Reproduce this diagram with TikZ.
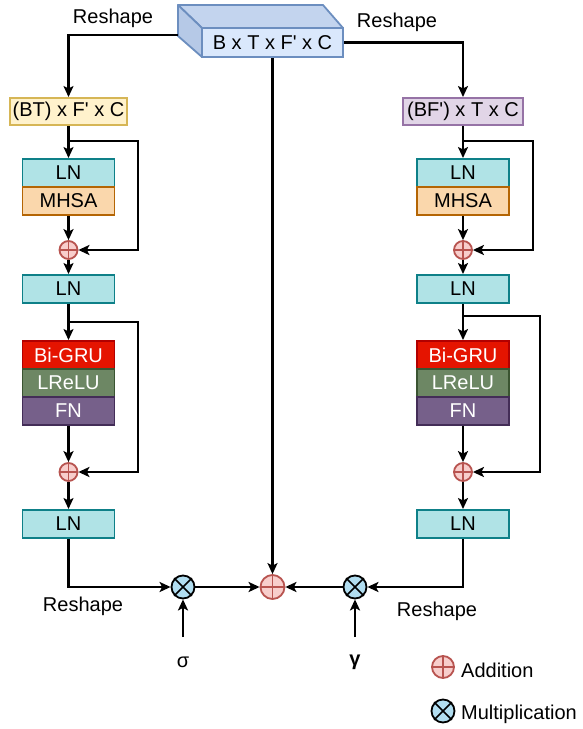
\documentclass[tikz,border=0pt]{standalone}
\usepackage{fontspec}
\setmainfont{Liberation Sans}[Ligatures=TeXOff]
\usetikzlibrary{arrows.meta,calc}
\definecolor{lnF}{HTML}{B0E3E6}\definecolor{lnD}{HTML}{0E8088}
\definecolor{mhF}{HTML}{FAD7AC}\definecolor{mhD}{HTML}{B46504}
\definecolor{grF}{HTML}{E51400}\definecolor{grD}{HTML}{B20000}
\definecolor{reF}{HTML}{6D8764}\definecolor{reD}{HTML}{3A5431}
\definecolor{fnF}{HTML}{76608A}\definecolor{fnD}{HTML}{432D57}
\definecolor{yeF}{HTML}{FFF2CC}\definecolor{yeD}{HTML}{D6B656}
\definecolor{puF}{HTML}{E1D5E7}\definecolor{puD}{HTML}{9673A6}
\definecolor{blF}{HTML}{DAE8FC}\definecolor{blS}{HTML}{C3D4EE}\definecolor{blD}{HTML}{6C8EBF}
\definecolor{adF}{HTML}{F8CECC}\definecolor{adD}{HTML}{B85450}
\definecolor{muF}{HTML}{B1DDF0}
\begin{document}
\begin{tikzpicture}[x=1pt,y=-1pt,
  font=\fontsize{20}{24}\selectfont,
  blk/.style={draw,line width=1.8pt,minimum width=92pt,minimum height=28pt,inner sep=0pt,anchor=north},
  conn/.style={line width=2.2pt,-{Stealth[length=11pt,width=10pt,inset=2.5pt]}},
  addc/.style={circle,draw=adD,fill=adF,line width=1.8pt,minimum size=18pt,inner sep=0pt},
  mulc/.style={circle,draw=black,fill=muF,line width=1.8pt,minimum size=23pt,inner sep=0pt}]
\useasboundingbox (0,0) rectangle (583,729);
% top 3D box
\fill[blS,draw=blD,line width=1.8pt,line join=round] (178,5) -- (323,5) -- (343,28) -- (202,28) -- cycle;
\fill[blS!85!blD,draw=blD,line width=1.8pt,line join=round] (178,5) -- (202,28) -- (202,57) -- (178,36) -- cycle;
\node[draw=blD,fill=blF,line width=1.8pt,minimum width=141pt,minimum height=29pt,inner sep=0pt] (top) at (272.5,42.5) {B x T x F' x C};
\coordinate (tl) at (178,35);
% left column
\node[blk,draw=yeD,fill=yeF,minimum width=117pt,minimum height=27pt] (bt) at (68.5,97) {(BT) x F' x C};
\node[blk,draw=lnD,fill=lnF] (ln1) at (68.5,158) {LN};
\node[blk,draw=mhD,fill=mhF] (mh1) at (68.5,186) {MHSA};
\node[addc] (a1) at (68.5,250) {};
\node[blk,draw=lnD,fill=lnF] (ln2) at (68.5,274) {LN};
\node[blk,draw=grD,fill=grF,text=white] (gr1) at (68.5,340) {Bi-GRU};
\node[blk,draw=reD,fill=reF,text=white] (re1) at (68.5,368) {LReLU};
\node[blk,draw=fnD,fill=fnF,text=white] (fn1) at (68.5,396) {FN};
\node[addc] (a2) at (68.5,472) {};
\node[blk,draw=lnD,fill=lnF] (ln3) at (68.5,509) {LN};
% right column
\node[blk,draw=puD,fill=puF,minimum width=120pt,minimum height=27pt] (bf) at (463,97) {(BF') x T x C};
\node[blk,draw=lnD,fill=lnF] (rln1) at (463,158) {LN};
\node[blk,draw=mhD,fill=mhF] (rmh1) at (463,186) {MHSA};
\node[addc] (ra1) at (463,250) {};
\node[blk,draw=lnD,fill=lnF] (rln2) at (463,274) {LN};
\node[blk,draw=grD,fill=grF,text=white] (rgr1) at (463,340) {Bi-GRU};
\node[blk,draw=reD,fill=reF,text=white] (rre1) at (463,368) {LReLU};
\node[blk,draw=fnD,fill=fnF,text=white] (rfn1) at (463,396) {FN};
\node[addc] (ra2) at (463,472) {};
\node[blk,draw=lnD,fill=lnF] (rln3) at (463,509) {LN};
% bottom
\node[mulc] (m1) at (183,587) {};
\node[addc,minimum size=24pt] (asum) at (272.5,587) {};
\node[mulc] (m2) at (355,587) {};
\coordinate (sig) at (183,637);
\coordinate (gam) at (355,637);
\node (sigl) at (183,662) {\symbol{"03C3}};
\node (gaml) at (355,662) {\textbf{\symbol{"03B3}}};
% legend
\node[addc,minimum size=22pt] (la) at (443,667) {};
\node[mulc] (lm) at (443,711) {};
\node[anchor=west,inner sep=0pt] (lat) at (461,670) {Addition};
\node[anchor=west,inner sep=0pt] (lmt) at (461,714) {Multiplication};
% symbols
\foreach \n in {a1,a2,ra1,ra2,asum,la}{
  \draw[adD,line width=1.5pt] (\n.north) -- (\n.south) (\n.east) -- (\n.west);}
\foreach \n in {m1,m2,lm}{
  \draw[line width=1.6pt] (\n.45) -- (\n.225) (\n.135) -- (\n.315);}
% labels
\node (rs1) at (113,18) {Reshape};
\node (rs2) at (397,22) {Reshape};
\node (rs3) at (83,606) {Reshape};
\node (rs4) at (437,611) {Reshape};
% connectors top
\draw[conn] (tl) -| (bt.north);
\draw[conn] (top.east) -| (bf.north);
\draw[conn] (top.south) -- (asum.north);
% left column connectors
\draw[conn] (bt.south) -- (ln1.north);
\draw[conn] (mh1.south) -- (a1.north);
\draw[conn] (a1.south) -- (ln2.north);
\draw[conn] (ln2.south) -- (gr1.north);
\draw[conn] (fn1.south) -- (a2.north);
\draw[conn] (a2.south) -- (ln3.north);
\draw[conn] ($(bt.south)+(0,15)$) -| (138,250) -- (a1.east);
\draw[conn] ($(ln2.south)+(0,18)$) -| (138,472) -- (a2.east);
% right column connectors
\draw[conn] (bf.south) -- (rln1.north);
\draw[conn] (rmh1.south) -- (ra1.north);
\draw[conn] (ra1.south) -- (rln2.north);
\draw[conn] (rln2.south) -- (rgr1.north);
\draw[conn] (rfn1.south) -- (ra2.north);
\draw[conn] (ra2.south) -- (rln3.north);
\draw[conn] ($(bf.south)+(0,15)$) -| (533,250) -- (ra1.east);
\draw[conn] ($(rln2.south)+(0,12)$) -| (540,472) -- (ra2.east);
% bottom connectors
\draw[conn] (ln3.south) |- (m1.west);
\draw[conn] (rln3.south) |- (m2.east);
\draw[conn] (m1.east) -- (asum.west);
\draw[conn] (m2.west) -- (asum.east);
\draw[conn] (sig) -- (m1.south);
\draw[conn] (gam) -- (m2.south);
\end{tikzpicture}
\end{document}
